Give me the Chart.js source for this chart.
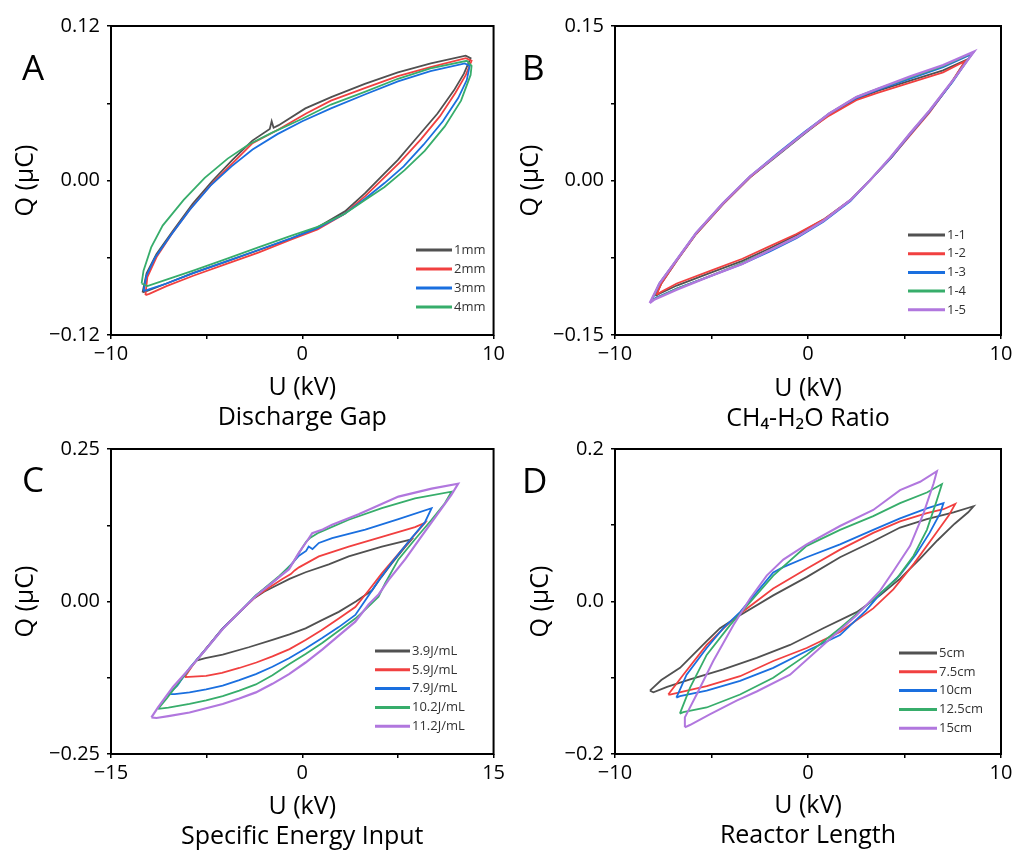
<!DOCTYPE html>
<html>
<head>
<meta charset="utf-8">
<script src="https://cdn.jsdelivr.net/npm/chart.js@4"></script>
<style>
  body { margin: 0; background: #fff; width: 1016px; height: 855px; position: relative; overflow: hidden; }
  canvas { position: absolute; }
</style>
</head>
<body>
<canvas id="chart-a" width="508" height="440" style="left:0;top:0"></canvas>
<canvas id="chart-b" width="508" height="440" style="left:508px;top:0"></canvas>
<canvas id="chart-c" width="508" height="425" style="left:0;top:430px"></canvas>
<canvas id="chart-d" width="508" height="425" style="left:508px;top:430px"></canvas>
<script>
// ---- tick values / labels ----
const U_TICKS_10 = [-10, -5, 0, 5, 10];
const U_LABELS_10 = ["\u221210", "", "0", "", "10"];
const U_TICKS_15 = [-15, -7.5, 0, 7.5, 15];
const U_LABELS_15 = ["\u221215", "", "0", "", "15"];
const Q_TICKS_A = [-0.12, -0.06, 0, 0.06, 0.12];
const Q_LABELS_A = ["\u22120.12", "", "0.00", "", "0.12"];
const Q_TICKS_B = [-0.15, -0.075, 0, 0.075, 0.15];
const Q_LABELS_B = ["\u22120.15", "", "0.00", "", "0.15"];
const Q_TICKS_C = [-0.25, -0.125, 0, 0.125, 0.25];
const Q_LABELS_C = ["\u22120.25", "", "0.00", "", "0.25"];
const Q_TICKS_D = [-0.2, -0.1, 0, 0.1, 0.2];
const Q_LABELS_D = ["\u22120.2", "", "0.0", "", "0.2"];

// ---- A: discharge gap (U kV, Q uC) ----
const gapLabels = ["1mm", "2mm", "3mm", "4mm"];
const gap1mm = [[-8.35,-0.087],[-8.14,-0.072],[-7.62,-0.057],[-6.76,-0.039],[-5.72,-0.018],[-4.68,0.000],[-3.65,0.016],[-2.61,0.031],[-1.7,0.040],[-1.6,0.046],[-1.5,0.041],[-1.23,0.043],[0.16,0.056],[1.54,0.065],[3.27,0.075],[5.0,0.084],[6.72,0.091],[8.54,0.097],[8.8,0.095],[8.45,0.083],[7.93,0.070],[7.07,0.052],[6.03,0.034],[5.0,0.016],[4.13,0.003],[3.27,-0.010],[2.23,-0.024],[0.85,-0.036],[-0.54,-0.045],[-2.26,-0.054],[-3.99,-0.063],[-5.72,-0.072],[-7.1,-0.080],[-8.14,-0.086],[-8.35,-0.087]];
const gap2mm = [[-8.2,-0.089],[-8.1,-0.075],[-7.6,-0.059],[-6.8,-0.041],[-5.8,-0.021],[-4.7,-0.002],[-3.6,0.014],[-2.6,0.029],[-1.2,0.040],[0.2,0.052],[1.5,0.062],[3.3,0.072],[5.0,0.081],[6.7,0.088],[8.55,0.095],[8.85,0.093],[8.55,0.082],[8.0,0.068],[7.2,0.050],[6.2,0.032],[5.1,0.014],[4.2,0.001],[3.3,-0.012],[2.2,-0.026],[0.8,-0.038],[-0.6,-0.046],[-2.3,-0.056],[-4.0,-0.065],[-5.7,-0.074],[-7.1,-0.082],[-8.0,-0.088],[-8.2,-0.089]];
const gap3mm = [[-8.3,-0.086],[-8.15,-0.074],[-7.7,-0.060],[-6.9,-0.043],[-5.9,-0.023],[-4.8,-0.004],[-3.7,0.011],[-2.6,0.024],[-1.3,0.036],[0.0,0.046],[1.5,0.056],[3.3,0.067],[5.0,0.077],[6.7,0.085],[8.5,0.091],[8.75,0.089],[8.6,0.078],[8.15,0.064],[7.35,0.046],[6.35,0.028],[5.3,0.011],[4.3,-0.002],[3.3,-0.014],[2.2,-0.026],[0.8,-0.037],[-0.6,-0.045],[-2.3,-0.054],[-4.0,-0.063],[-5.7,-0.072],[-7.1,-0.080],[-8.1,-0.085],[-8.3,-0.086]];
const gap4mm = [[-8.4,-0.080],[-8.3,-0.070],[-7.9,-0.052],[-7.3,-0.035],[-6.2,-0.015],[-5.1,0.002],[-3.9,0.017],[-2.8,0.028],[-1.6,0.037],[0.0,0.048],[1.5,0.059],[3.3,0.069],[5.0,0.079],[6.7,0.087],[8.6,0.093],[8.85,0.089],[8.8,0.082],[8.3,0.062],[7.45,0.042],[6.4,0.023],[5.35,0.008],[4.3,-0.005],[3.3,-0.015],[2.2,-0.026],[0.8,-0.036],[-0.6,-0.043],[-2.3,-0.052],[-4.0,-0.061],[-5.7,-0.070],[-7.1,-0.077],[-8.1,-0.082],[-8.4,-0.080]];

// ---- B: CH4-H2O ratio ----
const ratioLabels = ["1-1", "1-2", "1-3", "1-4", "1-5"];
const ratio11 = [[-7.9,-0.112],[-7.6,-0.100],[-6.8,-0.078],[-5.8,-0.052],[-4.4,-0.023],[-3.0,0.003],[-1.6,0.024],[-0.2,0.045],[1.1,0.064],[2.5,0.079],[3.6,0.087],[5.3,0.097],[7.0,0.107],[8.2,0.117],[8.05,0.113],[7.4,0.094],[6.3,0.067],[5.3,0.045],[4.3,0.022],[3.2,0.000],[2.2,-0.019],[0.8,-0.038],[-0.6,-0.053],[-2.0,-0.066],[-3.4,-0.078],[-5.1,-0.090],[-6.8,-0.102],[-7.7,-0.110],[-7.9,-0.112]];
const ratio12 = [[-7.85,-0.111],[-7.6,-0.100],[-6.8,-0.078],[-5.8,-0.052],[-4.4,-0.023],[-3.0,0.003],[-1.6,0.025],[-0.2,0.046],[1.1,0.063],[2.5,0.078],[3.6,0.085],[5.3,0.095],[7.0,0.105],[8.15,0.116],[8.0,0.112],[7.35,0.093],[6.3,0.066],[5.3,0.044],[4.3,0.022],[3.2,0.000],[2.2,-0.019],[0.8,-0.038],[-0.6,-0.052],[-2.0,-0.064],[-3.4,-0.076],[-5.1,-0.088],[-6.8,-0.100],[-7.6,-0.108],[-7.85,-0.111]];
const ratio13 = [[-8.1,-0.117],[-7.7,-0.100],[-6.8,-0.077],[-5.8,-0.051],[-4.4,-0.022],[-3.0,0.004],[-1.6,0.026],[-0.2,0.047],[1.1,0.065],[2.5,0.080],[3.6,0.088],[5.3,0.099],[7.0,0.110],[8.5,0.123],[8.3,0.118],[7.5,0.096],[6.3,0.067],[5.3,0.045],[4.3,0.022],[3.2,0.000],[2.2,-0.020],[0.8,-0.040],[-0.6,-0.056],[-2.0,-0.069],[-3.4,-0.081],[-5.1,-0.093],[-6.8,-0.105],[-7.9,-0.114],[-8.1,-0.117]];
const ratio14 = [[-8.15,-0.118],[-7.7,-0.100],[-6.8,-0.077],[-5.8,-0.051],[-4.4,-0.022],[-3.0,0.004],[-1.6,0.025],[-0.2,0.046],[1.1,0.065],[2.5,0.081],[3.6,0.089],[5.3,0.100],[7.0,0.111],[8.55,0.124],[8.35,0.119],[7.5,0.097],[6.3,0.068],[5.3,0.046],[4.3,0.023],[3.2,0.000],[2.2,-0.019],[0.8,-0.039],[-0.6,-0.055],[-2.0,-0.068],[-3.4,-0.080],[-5.1,-0.093],[-6.8,-0.105],[-7.95,-0.115],[-8.15,-0.118]];
const ratio15 = [[-8.2,-0.119],[-7.7,-0.100],[-6.8,-0.077],[-5.8,-0.051],[-4.4,-0.022],[-3.0,0.004],[-1.6,0.025],[-0.2,0.046],[1.1,0.065],[2.5,0.081],[3.6,0.089],[5.3,0.101],[7.0,0.112],[8.6,0.125],[8.4,0.120],[7.5,0.097],[6.3,0.068],[5.3,0.046],[4.3,0.023],[3.2,0.000],[2.2,-0.019],[0.8,-0.039],[-0.6,-0.055],[-2.0,-0.068],[-3.4,-0.081],[-5.1,-0.093],[-6.8,-0.106],[-8.0,-0.116],[-8.2,-0.119]];

// ---- C: specific energy input ----
const seiLabels = ["3.9J/mL", "5.9J/mL", "7.9J/mL", "10.2J/mL", "11.2J/mL"];
const sei39 = [[-8.32,-0.097],[-7.54,-0.077],[-6.24,-0.044],[-5.0,-0.019],[-3.8,0.005],[-3.0,0.016],[-2.34,0.023],[-1.0,0.037],[0.26,0.048],[2.08,0.061],[3.64,0.074],[6.24,0.090],[8.58,0.102],[8.0,0.088],[7.0,0.062],[6.2,0.040],[5.46,0.018],[4.2,0.000],[2.86,-0.017],[1.5,-0.031],[0.26,-0.044],[-1.0,-0.054],[-2.34,-0.063],[-4.2,-0.075],[-6.24,-0.087],[-7.6,-0.093],[-8.32,-0.097]];
const sei59 = [[-9.23,-0.124],[-8.6,-0.105],[-7.54,-0.077],[-6.24,-0.044],[-5.0,-0.019],[-3.64,0.008],[-2.5,0.024],[-1.56,0.037],[-0.9,0.045],[-0.6,0.051],[-0.26,0.056],[1.3,0.074],[3.64,0.090],[6.24,0.106],[8.84,0.122],[9.62,0.129],[8.84,0.110],[7.54,0.078],[6.24,0.046],[5.2,0.018],[4.16,-0.009],[2.86,-0.028],[1.5,-0.047],[0.26,-0.063],[-1.0,-0.078],[-2.34,-0.090],[-3.6,-0.100],[-4.94,-0.109],[-6.3,-0.117],[-7.54,-0.122],[-9.23,-0.124]];
const sei79 = [[-10.53,-0.152],[-9.8,-0.138],[-8.84,-0.109],[-7.54,-0.077],[-6.24,-0.044],[-5.0,-0.019],[-3.64,0.010],[-2.4,0.030],[-1.82,0.040],[-0.9,0.060],[-0.26,0.075],[0.3,0.083],[0.5,0.090],[0.8,0.086],[1.3,0.096],[2.34,0.104],[4.94,0.118],[7.54,0.135],[10.14,0.153],[9.62,0.130],[8.32,0.098],[7.02,0.064],[6.0,0.035],[5.2,0.010],[4.16,-0.022],[2.86,-0.042],[1.56,-0.060],[0.26,-0.077],[-1.04,-0.093],[-2.34,-0.107],[-3.64,-0.119],[-4.94,-0.129],[-6.24,-0.138],[-7.54,-0.144],[-8.84,-0.149],[-10.0,-0.152],[-10.53,-0.152]];
const sei102 = [[-11.31,-0.176],[-10.6,-0.158],[-8.84,-0.110],[-7.54,-0.078],[-6.24,-0.045],[-5.0,-0.019],[-3.64,0.010],[-1.8,0.042],[-0.78,0.062],[0.0,0.088],[0.3,0.098],[0.6,0.104],[1.3,0.113],[3.64,0.134],[6.24,0.153],[8.84,0.169],[11.7,0.180],[11.18,0.161],[10.14,0.134],[8.84,0.102],[7.54,0.069],[6.5,0.030],[5.98,0.008],[5.0,-0.012],[4.16,-0.028],[2.86,-0.048],[1.56,-0.068],[0.26,-0.086],[-1.04,-0.103],[-2.34,-0.121],[-3.64,-0.136],[-4.94,-0.146],[-6.24,-0.155],[-7.54,-0.162],[-8.84,-0.168],[-10.5,-0.174],[-11.31,-0.176]];
const sei112 = [[-11.83,-0.190],[-11.3,-0.173],[-10.14,-0.140],[-8.84,-0.110],[-7.54,-0.078],[-6.24,-0.045],[-5.0,-0.019],[-3.64,0.009],[-1.82,0.040],[-1.04,0.053],[-0.26,0.080],[0.4,0.100],[0.78,0.112],[1.6,0.118],[2.34,0.126],[4.42,0.143],[7.54,0.172],[10.14,0.185],[12.22,0.193],[11.7,0.175],[10.66,0.145],[9.36,0.107],[8.06,0.069],[6.76,0.035],[6.0,0.012],[5.2,-0.005],[4.16,-0.033],[2.86,-0.056],[1.56,-0.079],[0.26,-0.100],[-1.04,-0.119],[-2.34,-0.135],[-3.64,-0.149],[-4.94,-0.159],[-6.24,-0.168],[-7.54,-0.175],[-8.84,-0.182],[-10.5,-0.188],[-11.44,-0.191],[-11.83,-0.190]];

// ---- D: reactor length ----
const lenLabels = ["5cm", "7.5cm", "10cm", "12.5cm", "15cm"];
const len5 = [[-8.19,-0.117],[-7.6,-0.103],[-6.63,-0.087],[-5.25,-0.052],[-4.56,-0.035],[-3.52,-0.018],[-1.8,0.008],[-0.07,0.032],[1.66,0.058],[3.38,0.079],[4.77,0.097],[6.16,0.108],[7.54,0.117],[8.58,0.125],[8.3,0.117],[7.6,0.102],[6.7,0.080],[5.8,0.056],[4.77,0.030],[3.73,0.008],[2.52,-0.014],[0.79,-0.035],[-0.93,-0.057],[-2.66,-0.074],[-4.39,-0.089],[-6.11,-0.102],[-7.3,-0.112],[-8.01,-0.119],[-8.19,-0.117]];
const len75 = [[-7.24,-0.122],[-6.46,-0.096],[-5.25,-0.057],[-4.04,-0.027],[-3.52,-0.016],[-1.8,0.017],[-0.07,0.043],[1.66,0.068],[3.38,0.090],[4.77,0.105],[6.16,0.116],[7.02,0.121],[7.63,0.128],[7.3,0.113],[6.5,0.085],[5.5,0.050],[4.42,0.016],[3.38,-0.009],[1.66,-0.040],[-0.07,-0.061],[-1.8,-0.078],[-3.52,-0.098],[-5.25,-0.111],[-6.6,-0.119],[-7.15,-0.122],[-7.24,-0.122]];
const len10 = [[-6.82,-0.126],[-6.29,-0.096],[-5.25,-0.061],[-4.39,-0.035],[-3.52,-0.014],[-1.8,0.038],[-1.28,0.045],[-0.07,0.058],[1.66,0.075],[3.38,0.094],[4.77,0.109],[6.16,0.122],[7.02,0.129],[6.85,0.116],[6.3,0.090],[5.6,0.062],[4.77,0.035],[3.74,0.010],[3.0,-0.012],[1.66,-0.044],[-0.07,-0.065],[-1.8,-0.087],[-3.52,-0.104],[-5.25,-0.117],[-6.63,-0.124],[-6.82,-0.126]];
const len125 = [[-6.64,-0.147],[-6.11,-0.113],[-5.25,-0.070],[-4.04,-0.031],[-3.0,-0.001],[-1.8,0.034],[-0.07,0.073],[1.66,0.094],[3.38,0.112],[4.77,0.129],[6.16,0.143],[6.94,0.154],[6.68,0.133],[6.16,0.094],[5.47,0.060],[4.6,0.030],[3.04,-0.005],[1.66,-0.035],[-0.07,-0.070],[-1.8,-0.100],[-3.52,-0.122],[-5.25,-0.139],[-6.46,-0.145],[-6.64,-0.147]];
const len15 = [[-6.38,-0.165],[-6.38,-0.152],[-5.77,-0.122],[-4.91,-0.078],[-3.87,-0.031],[-3.0,0.004],[-2.14,0.034],[-1.28,0.055],[-0.07,0.075],[1.66,0.099],[3.38,0.120],[4.77,0.146],[5.81,0.157],[6.68,0.171],[6.51,0.155],[5.99,0.116],[5.29,0.073],[4.43,0.040],[3.73,0.014],[2.52,-0.018],[0.79,-0.057],[-0.93,-0.096],[-2.66,-0.118],[-3.7,-0.130],[-5.09,-0.148],[-6.12,-0.162],[-6.38,-0.165]];

// Origin-style palette
const COLORS = ["#515151", "#F14040", "#1A6FDF", "#37AD6B", "#B177DE"];
const FONT = '"Open Sans", "Noto Sans", sans-serif';

Chart.defaults.font.family = FONT;
Chart.defaults.color = "#000";

// frame, panel letter and legend drawn on top of the loops
const panelDecor = {
  id: "panelDecor",
  afterDatasetsDraw(chart, args, opts) {
    const { ctx, chartArea: a } = chart;
    ctx.save();
    ctx.strokeStyle = "#000";
    ctx.lineWidth = 2;
    ctx.strokeRect(a.left, a.top, a.right - a.left, a.bottom - a.top);

    ctx.fillStyle = "#000";
    ctx.font = `35px ${FONT}`;
    ctx.textBaseline = "alphabetic";
    ctx.fillText(opts.letter, opts.letterX, opts.letterY);

    ctx.font = `13px ${FONT}`;
    ctx.textBaseline = "middle";
    chart.data.datasets.forEach((ds, i) => {
      const y = opts.legendY + i * opts.legendGap;
      ctx.strokeStyle = ds.borderColor;
      ctx.lineWidth = 3;
      ctx.beginPath();
      ctx.moveTo(opts.legendX, y);
      ctx.lineTo(opts.legendX + opts.legendLen, y);
      ctx.stroke();
      ctx.fillStyle = "#333";
      ctx.fillText(ds.label, opts.legendX + opts.legendLen + 2, y);
    });
    ctx.restore();
  },
};

function loopDataset(label, points, i, n, width = 1.8) {
  return {
    label,
    data: points.map(([x, y]) => ({ x, y })),
    borderColor: COLORS[i],
    backgroundColor: COLORS[i],
    borderWidth: width,
    pointRadius: 0,
    showLine: true,
    tension: 0,
    fill: false,
    order: n - i,
  };
}

function axis(ticks, labels, extra) {
  return {
    type: "linear",
    min: ticks[0],
    max: ticks[ticks.length - 1],
    afterBuildTicks: (s) => { s.ticks = ticks.map((v) => ({ value: v })); },
    grid: { drawOnChartArea: false, drawTicks: true, tickLength: 4, color: "#000", lineWidth: 1.5 },
    border: { display: false },
    ticks: {
      autoSkip: false,
      maxRotation: 0,
      font: { size: 20 },
      color: "#000",
      callback: (v, idx) => labels[idx],
      ...extra.ticks,
    },
    title: extra.title,
    afterFit: extra.afterFit,
  };
}

function makePanel(id, p) {
  const n = p.series.length;
  return new Chart(document.getElementById(id), {
    type: "scatter",
    data: {
      datasets: p.series.map((s, i) => loopDataset(p.labels[i], s, i, n, p.widths ? p.widths[i] : 1.8)),
    },
    options: {
      responsive: false,
      animation: false,
      events: [],
      layout: { autoPadding: false, padding: { top: p.padTop, right: p.padRight, left: 0, bottom: 0 } },
      scales: {
        x: axis(p.xTicks, p.xLabels, {
          ticks: { padding: 3 },
          title: {
            display: true, text: ["U (kV)", p.caption],
            font: { size: 25, lineHeight: 1.2 }, color: "#000",
            padding: { top: 0, bottom: p.captionPad },
          },
          afterFit: (s) => { s.height = p.xHeight; },
        }),
        y: axis(p.yTicks, p.yLabels, {
          ticks: { padding: 7 },
          title: {
            display: true, text: "Q (\u03bcC)",
            font: { size: 25, lineHeight: 1.2 }, color: "#000",
            padding: { top: p.qPad, bottom: 0 },
          },
          afterFit: (s) => { s.width = p.yWidth; },
        }),
      },
      plugins: {
        legend: { display: false },
        tooltip: { enabled: false },
        panelDecor: p.decor,
      },
    },
    plugins: [panelDecor],
  });
}

makePanel("chart-a", {
  series: [gap1mm, gap2mm, gap3mm, gap4mm], labels: gapLabels,
  xTicks: U_TICKS_10, xLabels: U_LABELS_10, yTicks: Q_TICKS_A, yLabels: Q_LABELS_A,
  caption: "Discharge Gap", captionPad: 7, qPad: 11,
  padTop: 26, padRight: 11, yWidth: 111, xHeight: 105,
  decor: { letter: "A", letterX: 22, letterY: 80, legendX: 416, legendLen: 36, legendY: 250, legendGap: 19 },
});

makePanel("chart-b", {
  series: [ratio11, ratio12, ratio13, ratio14, ratio15], labels: ratioLabels,
  widths: [1.8, 1.8, 1.8, 1.8, 2.4],
  xTicks: U_TICKS_10, xLabels: U_LABELS_10, yTicks: Q_TICKS_B, yLabels: Q_LABELS_B,
  caption: "CH\u2084-H\u2082O Ratio", captionPad: 6, qPad: 8,
  padTop: 26, padRight: 15, yWidth: 107, xHeight: 105,
  decor: { letter: "B", letterX: 14, letterY: 80, legendX: 400, legendLen: 37, legendY: 235, legendGap: 18.7 },
});

makePanel("chart-c", {
  series: [sei39, sei59, sei79, sei102, sei112], labels: seiLabels,
  widths: [1.8, 1.8, 1.8, 1.8, 2.2],
  xTicks: U_TICKS_15, xLabels: U_LABELS_15, yTicks: Q_TICKS_C, yLabels: Q_LABELS_C,
  caption: "Specific Energy Input", captionPad: 3, qPad: 11,
  padTop: 15, padRight: 12, yWidth: 111, xHeight: 101,
  decor: { letter: "C", letterX: 22, letterY: 62, legendX: 375, legendLen: 35, legendY: 221, legendGap: 18.8 },
});

makePanel("chart-d", {
  series: [len5, len75, len10, len125, len15], labels: lenLabels,
  widths: [1.8, 1.8, 1.8, 1.8, 2.0],
  xTicks: U_TICKS_10, xLabels: U_LABELS_10, yTicks: Q_TICKS_D, yLabels: Q_LABELS_D,
  caption: "Reactor Length", captionPad: 4, qPad: 18,
  padTop: 15, padRight: 15, yWidth: 107, xHeight: 101,
  decor: { letter: "D", letterX: 14, letterY: 63, legendX: 391, legendLen: 38, legendY: 223, legendGap: 18.8 },
});
</script>
</body>
</html>
